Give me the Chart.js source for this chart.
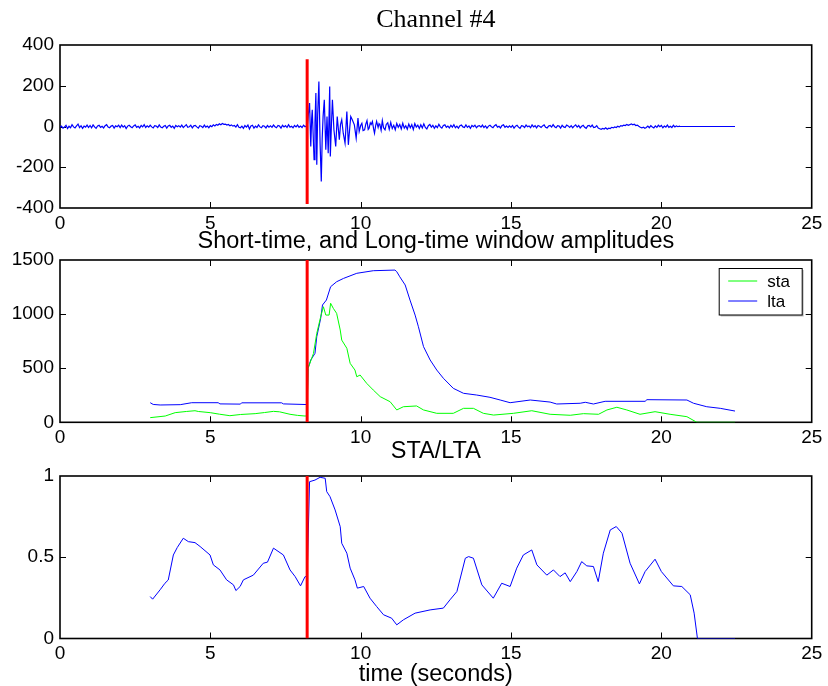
<!DOCTYPE html>
<html>
<head>
<meta charset="utf-8">
<script src="https://cdn.jsdelivr.net/npm/chart.js@4/dist/chart.umd.min.js"></script>
<style>
  html, body { margin: 0; padding: 0; background: #fff; }
  body { width: 828px; height: 686px; position: relative; overflow: hidden; }
  canvas { position: absolute; left: 0; }
</style>
</head>
<body>
<canvas id="c1" width="828" height="232" style="top:0px"></canvas>
<canvas id="c2" width="828" height="225" style="top:225px"></canvas>
<canvas id="c3" width="828" height="253" style="top:436px"></canvas>
<script>
// ---------------- DATA ----------------
const xTicks = [0, 5, 10, 15, 20, 25];
const seisTicks = [-400, -200, 0, 200, 400];
const ampTicks = [0, 500, 1000, 1500];
const ratioTicks = [0, 0.5, 1];

const pickTime = 8.22;              // red trigger line (s)
const pickSeisRange = [-380, 330];  // extent of red line in the top panel

// Channel #4 waveform: noise before the event (every 0.05 s from 0.00 s)
const noiseStep = 0.05;
const preNoiseStart = 0.0;
const preNoise = [
  -4, 2, -8, -3, 6, -10, 1, -6, 9, -2, -7, 3, 12, -5, 4, -9, 2, -3, 7, -5,
  5, -6, 8, -2, -9, 3, 6, -4, 1, -7, 4, 9, -3, -6, 2, 5, -8, 3, -1, 6,
  -5, 7, -3, 4, -10, 2, 6, -1, -6, 3, 8, -4, 1, -7, 5, -2, 9, -5, 3, -3,
  6, -2, -7, 4, 2, -5, 8, -3, -6, 1, 5, -8, 3, 6, -4, 2, -9, 5, -1, 4,
  -3, 7, -5, 2, 9, -4, -1, 6, -7, 3, 5, -2, -8, 4, 1, -5, 7, -3, 2, -6,
  4, -1, 8, 3, 10, 6, 13, 9, 15, 11, 12, 7, 10, 4, 8, 2, 5, -3, 9, -4,
  -6, 2, -9, 5, -3, 7, -12, 3, 6, -8, 2, -5, 8, -2, -6, 4, 1, -7, 5, -3,
  3, -4, 7, -1, -6, 5, 2, -8, 6, -2, 4, -5, 9, -3, 1, -6, 5, -2, 7, -4,
  2, -5, 6, -1, 3
];
// the event burst
const burstTime = [8.22, 8.26, 8.30, 8.34, 8.37, 8.39, 8.42, 8.45, 8.48, 8.51, 8.54, 8.57, 8.61, 8.65, 8.69, 8.72,
  8.75, 8.79, 8.84, 8.88, 8.92, 8.97, 8.99, 9.03, 9.06, 9.11, 9.17, 9.22, 9.29, 9.33, 9.37, 9.42, 9.48, 9.54,
  9.59, 9.64, 9.67, 9.72, 9.79, 9.85, 9.91, 9.95, 10.00, 10.04, 10.08, 10.13, 10.17, 10.21, 10.25, 10.28,
  10.32, 10.35, 10.39, 10.43, 10.46, 10.50, 10.53, 10.58, 10.61, 10.64, 10.68, 10.72, 10.76, 10.81, 10.85];
const burstAmp = [-5, 60, 115, -98, 40, 82, -40, -163, 20, 164, -188, 60, 221, -82, -270, -60,
  49, 131, -114, 49, -131, 196, -147, 20, 131, -16, -98, 49, -65, 10, 33, -33, -82, 74,
  -90, 0, 49, 33, 8, -57, 41, -24, 5, 16, -20, -16, 12, 29, -14, -8,
  18, 10, 25, -12, -33, 6, 25, -5, 14, 8, -18, 29, -6, -16, 10];
// coda noise (every 0.05 s from 10.90 s)
const postNoiseStart = 10.9;
const postNoise = [
  18, -14,
  20, -10, 6, -16, 15, -4, 10, -12, 16, -8, 4, -13, 12, -6, 9, -15, 14, -3, 7, -10,
  9, -7, 13, -5, -12, 4, 10, -3, 6, -9, 3, -6, 11, -2, -8, 5, 8, -4, 2, -7,
  6, -3, 9, -6, 2, -8, 4, 7, -2, -5, 8, -4, 3, -9, 5, -1, 6, -6, 2, 4,
  -3, 7, -5, 3, -8, 2, 6, -1, -6, 4, 9, -3, 1, -7, 5, 8, -4, 2, -5, 3,
  -4, 5, -8, 2, 6, -3, -9, 4, 2, -5, 7, -1, 3, -6, 8, -2, 4, -7, 5, 1,
  -5, 3, 8, -4, -7, 2, 5, -3, 9, -1, -6, 4, 2, -8, 6, -2, -5, 7, 3, -4,
  4, -6, 2, 8, -3, 5, -7, 1, 6, -4, -9, 3, 5, -2, 7, -5, -3, 4, -8, -11,
  -14, -9, -12, -6, -13, -8, -10, -4, -7, -2, -5, 1, -3, 4, 2, 7, 5, 10, 6, 9,
  13, 8, 11, 5, 7, 1, -4, -7, -3, -9, -5, 2, -6, 4, -2, -7, 3, -4, 6, -1,
  5, -6, 2, -3, 7, -4, 1, -5, 6, -2, 3, -1, 2
];
const padTime = [20.62, 22.45];
const padAmp = [0, 0];

// Short-time average
const staTime = [3.0, 3.5, 3.83, 4.2, 4.49, 4.6, 5.0, 5.3, 5.65, 6.0, 6.49, 6.8, 7.1, 7.3, 7.65, 7.9, 8.15, 8.22,
  8.25, 8.43, 8.54, 8.67, 8.76, 8.84, 8.95, 9.0, 9.09, 9.2, 9.32, 9.37, 9.54, 9.65, 9.81, 9.87, 9.98, 10.2,
  10.42, 10.65, 10.98, 11.2, 11.42, 11.86, 12.09, 12.53, 13.08, 13.42, 13.75, 14.08, 14.42, 15.08, 15.69,
  16.3, 16.97, 17.41, 17.91, 18.19, 18.52, 18.85, 19.29, 19.79, 20.29, 20.85, 21.18, 22.45];
const staVal = [43, 58, 89, 100, 107, 100, 89, 75, 61, 72, 80, 90, 101, 97, 74, 64, 58, 60,
  499, 637, 822, 976, 1068, 991, 991, 1100, 1053, 1007, 853, 760, 684, 545, 483, 421, 437, 360,
  298, 237, 190, 114, 144, 151, 114, 83, 83, 129, 129, 83, 67, 83, 107,
  74, 65, 80, 74, 114, 139, 114, 74, 98, 74, 52, 0, 0];

// Long-time average
const ltaTime = [3.0, 3.1, 3.33, 4.0, 4.38, 5.26, 5.32, 6.0, 6.04, 7.37, 7.43, 8.22,
  8.25, 8.34, 8.48, 8.54, 8.67, 8.73, 8.86, 9.0, 9.2, 9.43, 9.87, 10.42, 11.14, 11.2, 11.3, 11.48,
  11.64, 11.81, 11.92, 12.09, 12.31, 12.53, 12.75, 13.08, 13.42, 13.86, 14.3, 14.64, 14.97, 15.64,
  16.3, 16.52, 17.3, 17.47, 17.74, 18.13, 19.46, 19.52, 20.85, 21.07, 21.51, 21.96, 22.45];
const ltaVal = [181, 165, 160, 163, 181, 181, 170, 168, 180, 180, 170, 164,
  499, 576, 637, 791, 961, 1084, 1130, 1253, 1299, 1330, 1377, 1401, 1407, 1392, 1345, 1269,
  1130, 991, 883, 699, 576, 483, 407, 314, 268, 252, 231, 206, 181, 206,
  187, 169, 176, 185, 169, 194, 194, 209, 206, 176, 144, 129, 104];

// STA/LTA ratio
const ratioTime = [3.0, 3.08, 3.33, 3.49, 3.6, 3.77, 3.9, 4.1, 4.27, 4.49, 4.66, 4.99, 5.1, 5.32, 5.54, 5.77,
  5.85, 5.99, 6.1, 6.43, 6.76, 6.9, 7.1, 7.43, 7.65, 7.82, 8.0, 8.15, 8.22,
  8.3, 8.48, 8.65, 8.82, 8.87, 8.98, 9.15, 9.32, 9.37, 9.54, 9.65, 9.81, 9.89, 10.1, 10.31, 10.53,
  10.76, 11.03, 11.2, 11.42, 11.81, 12.31, 12.75, 12.97, 13.2, 13.48, 13.59, 13.75, 14.03, 14.41,
  14.69, 14.97, 15.19, 15.41, 15.69, 15.86, 16.19, 16.41, 16.63, 16.8, 16.97, 17.19, 17.35, 17.52,
  17.74, 17.9, 18.07, 18.3, 18.5, 18.69, 18.96, 19.27, 19.46, 19.79, 20.0, 20.4, 20.68, 20.96,
  21.09, 21.2, 22.45];
const ratioVal = [0.258, 0.242, 0.30, 0.34, 0.36, 0.514, 0.56, 0.617, 0.596, 0.59, 0.566, 0.514, 0.453, 0.422, 0.361, 0.33,
  0.295, 0.32, 0.361, 0.39, 0.463, 0.47, 0.556, 0.514, 0.422, 0.381, 0.324, 0.381, 0.38,
  0.965, 0.975, 0.992, 0.986, 0.904, 0.873, 0.791, 0.688, 0.586, 0.525, 0.433, 0.361, 0.31, 0.32, 0.248, 0.197,
  0.146, 0.125, 0.084, 0.115, 0.156, 0.176, 0.187, 0.238, 0.289, 0.494, 0.504, 0.494, 0.33, 0.248,
  0.34, 0.32, 0.433, 0.514, 0.545, 0.453, 0.39, 0.422, 0.381, 0.404, 0.35, 0.412, 0.473, 0.447,
  0.443, 0.35, 0.525, 0.668, 0.689, 0.648, 0.463, 0.336, 0.412, 0.488, 0.412, 0.324, 0.32, 0.269,
  0.156, 0, 0];

// ---------------- HELPERS ----------------
const SANS = "'Liberation Sans', Arial, sans-serif";
const SERIF = "'Liberation Serif', 'Times New Roman', serif";
const BLUE = 'rgb(0,0,255)', GREEN = 'rgb(0,255,0)', RED = 'rgb(255,0,0)';

function pairs(xs, ys) { return xs.map((x, i) => ({ x: x, y: ys[i] })); }
function regular(start, step, ys) { return ys.map((y, i) => ({ x: +(start + i * step).toFixed(3), y: y })); }

const seisData = [].concat(
  regular(preNoiseStart, noiseStep, preNoise),
  pairs(burstTime, burstAmp),
  regular(postNoiseStart, noiseStep, postNoise),
  pairs(padTime, padAmp)
);

Chart.defaults.color = '#000';
Chart.defaults.animation = false;

const framePlugin = {
  id: 'frame',
  beforeDatasetsDraw(chart) {
    const { ctx, chartArea: a, scales: { x, y } } = chart;
    const L = 6;
    ctx.save();
    ctx.strokeStyle = '#000';
    ctx.lineWidth = 1;
    ctx.beginPath();
    x.ticks.forEach(t => {
      const px = Math.round(x.getPixelForValue(t.value)) + 0.5;
      if (px > a.left + 2 && px < a.right - 2) {
        ctx.moveTo(px, a.top); ctx.lineTo(px, a.top + L);
        ctx.moveTo(px, a.bottom); ctx.lineTo(px, a.bottom - L);
      }
    });
    y.ticks.forEach(t => {
      const py = Math.round(y.getPixelForValue(t.value)) + 0.5;
      if (py > a.top + 2 && py < a.bottom - 2) {
        ctx.moveTo(a.left, py); ctx.lineTo(a.left + L, py);
        ctx.moveTo(a.right, py); ctx.lineTo(a.right - L, py);
      }
    });
    ctx.stroke();
    ctx.lineWidth = 1.6;
    ctx.strokeRect(a.left, a.top, a.right - a.left, a.bottom - a.top);
    ctx.restore();
  }
};

const legendBoxPlugin = {
  id: 'legendBox',
  afterDraw(chart) {
    const { ctx, chartArea: a } = chart;
    const items = chart.data.datasets.filter(d => d.label);
    const bx = a.right - 92.5, by = a.top + 8.5, bw = 83, bh = 46.5;
    ctx.save();
    ctx.fillStyle = 'rgba(0,0,0,0.25)';
    ctx.fillRect(bx + 1.5, by + 1.5, bw, bh);
    ctx.fillStyle = '#fff';
    ctx.fillRect(bx, by, bw, bh);
    ctx.strokeStyle = '#000';
    ctx.lineWidth = 1;
    ctx.strokeRect(bx, by, bw, bh);
    ctx.font = '17px ' + SANS;
    ctx.textBaseline = 'middle';
    ctx.textAlign = 'left';
    items.forEach((d, i) => {
      const yy = by + 12.5 + i * 20;
      ctx.strokeStyle = d.borderColor;
      ctx.lineWidth = 1;
      ctx.beginPath();
      ctx.moveTo(bx + 9, yy); ctx.lineTo(bx + 38, yy);
      ctx.stroke();
      ctx.fillStyle = '#000';
      ctx.fillText(d.label, bx + 48, yy + 1);
    });
    ctx.restore();
  }
};

function xScale(height, titleOpt) {
  return {
    type: 'linear', min: 0, max: 25,
    afterBuildTicks: s => { s.ticks = xTicks.map(v => ({ value: v })); },
    ticks: { padding: 4, font: { family: SANS, size: 19 }, color: '#000', maxRotation: 0, autoSkip: false,
             callback: v => String(v) },
    grid: { display: false, drawTicks: false },
    border: { display: false },
    title: titleOpt || { display: false },
    afterFit: s => { s.height = height; s.paddingLeft = 0; s.paddingRight = 0; }
  };
}
function yScale(min, max, tickVals) {
  return {
    type: 'linear', min: min, max: max,
    afterBuildTicks: s => { s.ticks = tickVals.map(v => ({ value: v })); },
    ticks: { padding: 6, font: { family: SANS, size: 19 }, color: '#000', autoSkip: false,
             callback: v => String(v) },
    grid: { display: false, drawTicks: false },
    border: { display: false },
    afterFit: s => { s.width = 60; s.paddingTop = 0; s.paddingBottom = 0; }
  };
}
function lineDs(label, data, color, width) {
  return { label: label, data: data, borderColor: color, backgroundColor: color, borderWidth: width,
           pointRadius: 0, tension: 0, fill: false };
}
function baseOptions(titleText, titleFont, titlePad, xs, ys) {
  return {
    responsive: false, animation: false, parsing: true,
    layout: { padding: { left: 0, right: 16.3, top: 0, bottom: 0 } },
    plugins: {
      legend: { display: false },
      tooltip: { enabled: false },
      // fullSize:false -> the title is centred over the axes box, as in the original
      title: { display: true, fullSize: false, text: titleText, color: '#000', font: titleFont, padding: titlePad }
    },
    scales: { x: xs, y: ys }
  };
}

// ---------------- CHART 1 ----------------
new Chart(document.getElementById('c1'), {
  type: 'line',
  data: { datasets: [
    lineDs('', [{ x: pickTime, y: pickSeisRange[0] }, { x: pickTime, y: pickSeisRange[1] }], RED, 3),
    lineDs('', seisData, BLUE, 1.2)
  ] },
  options: baseOptions('Channel #4', { family: SERIF, size: 26, weight: 'normal', lineHeight: 1.2 },
    { top: 4.5, bottom: 9.3 }, xScale(24), yScale(-400, 400, seisTicks)),
  plugins: [framePlugin]
});

// ---------------- CHART 2 ----------------
new Chart(document.getElementById('c2'), {
  type: 'line',
  data: { datasets: [
    lineDs('', [{ x: pickTime, y: 0 }, { x: pickTime, y: 1500 }], RED, 3),
    lineDs('sta', pairs(staTime, staVal), GREEN, 1),
    lineDs('lta', pairs(ltaTime, ltaVal), BLUE, 1)
  ] },
  options: baseOptions('Short-time, and Long-time window amplitudes', { family: SANS, size: 23.5, weight: 'normal', lineHeight: 1.2 },
    { top: 2.5, bottom: 4.3 }, xScale(27.7), yScale(0, 1500, ampTicks)),
  plugins: [framePlugin, legendBoxPlugin]
});

// ---------------- CHART 3 ----------------
new Chart(document.getElementById('c3'), {
  type: 'line',
  data: { datasets: [
    lineDs('', [{ x: pickTime, y: 0 }, { x: pickTime, y: 1 }], RED, 3),
    lineDs('', pairs(ratioTime, ratioVal), BLUE, 1)
  ] },
  options: baseOptions('STA/LTA', { family: SANS, size: 23.5, weight: 'normal', lineHeight: 1.2 },
    { top: 1, bottom: 10.8 },
    xScale(50.5, { display: true, text: 'time (seconds)', color: '#000',
      font: { family: SANS, size: 23.5, weight: 'normal', lineHeight: 1.2 }, padding: { top: 0, bottom: 0 } }),
    yScale(0, 1, ratioTicks)),
  plugins: [framePlugin]
});
</script>
</body>
</html>
